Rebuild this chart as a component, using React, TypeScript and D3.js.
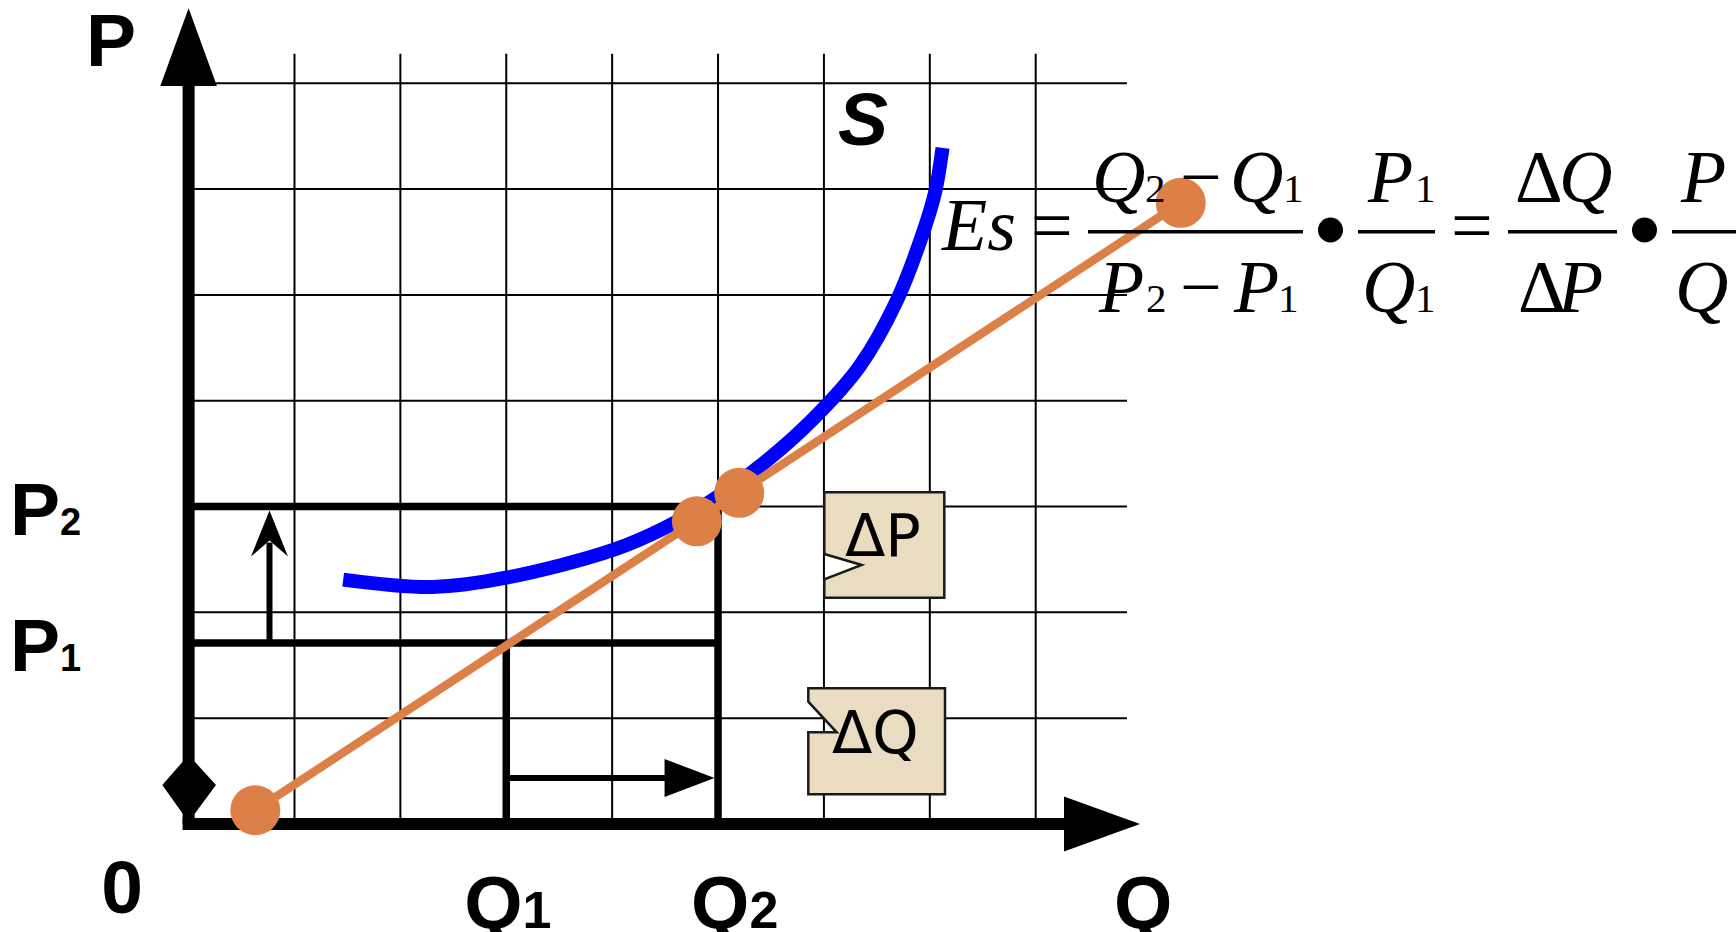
import * as d3 from "d3"
import React, { useEffect, useRef } from "react"

const W = 1736
const H = 932

// supply curve S (Q units, P units)
const supplyQ = [1.46, 2.31, 3.01, 4.01, 4.48, 4.9, 5.43, 5.9, 6.34, 6.69, 6.93, 7.05, 7.12]
const supplyP = [2.31, 2.24, 2.33, 2.59, 2.79, 3.03, 3.41, 3.83, 4.33, 4.95, 5.57, 5.97, 6.39]

// orange chord and its four dots
const chordQ = [0.63, 4.8, 5.2, 9.37]
const chordP = [0.13, 2.86, 3.13, 5.87]

const gridQ = [1, 2, 3, 4, 5, 6, 7, 8]
const gridP = [1, 2, 3, 4, 5, 6, 7]

// Q1, Q2 and P1, P2 levels
const levelQ = [3, 5]
const levelP = [1.71, 3]
const qTicks = ["Q1", "Q2"]
const pTicks = ["P1", "P2"]

const LABEL_FONT = "'Liberation Sans', Arial, sans-serif"
const BOX_FONT = "'DejaVu Sans', Verdana, sans-serif"
const MATH_FONT = "'Liberation Serif', 'Times New Roman', serif"
const ORANGE = "#dd8047"

export default function App() {
  const ref = useRef<SVGSVGElement>(null)

  useEffect(() => {
    document.body.style.margin = "0"
    const svg = d3.select(ref.current)
    svg.selectAll("*").remove()

    const x = d3.scaleLinear().domain([0, 8]).range([188.6, 1035.7])
    const y = d3.scaleLinear().domain([0, 7]).range([824, 83.3])

    // grid
    const grid = svg.append("g").attr("stroke", "#000").attr("stroke-width", 2)
    grid.selectAll("line.v")
      .data(gridQ)
      .join("line")
      .attr("class", "v")
      .attr("x1", d => x(d)).attr("x2", d => x(d))
      .attr("y1", y(0)).attr("y2", y(7.28))
    grid.selectAll("line.h")
      .data(gridP)
      .join("line")
      .attr("class", "h")
      .attr("x1", x(0)).attr("x2", x(8.862))
      .attr("y1", d => y(d)).attr("y2", d => y(d))

    // P1/P2 and Q1/Q2 guide lines
    const guides = svg.append("g").attr("stroke", "#000").attr("stroke-width", 7.5)
    levelP.forEach(p => {
      guides.append("line")
        .attr("x1", x(0)).attr("x2", x(levelQ[1]) + 3)
        .attr("y1", y(p)).attr("y2", y(p))
    })
    levelQ.forEach((q, i) => {
      guides.append("line")
        .attr("x1", x(q)).attr("x2", x(q))
        .attr("y1", y(0)).attr("y2", y(levelP[i]) - 3)
    })

    // arrow P1 -> P2
    const ax = x(0.764)
    const tipY = y(levelP[1]) + 4
    svg.append("line")
      .attr("x1", ax).attr("x2", ax)
      .attr("y1", y(levelP[0])).attr("y2", tipY + 32)
      .attr("stroke", "#000").attr("stroke-width", 6)
    svg.append("path")
      .attr("d", `M${ax},${tipY} L${ax + 18.5},${tipY + 46} L${ax},${tipY + 30} L${ax - 18.5},${tipY + 46} Z`)
      .attr("fill", "#000")

    // arrow Q1 -> Q2
    const ay = y(0.435)
    const tipX = x(levelQ[1]) - 3.5
    svg.append("line")
      .attr("x1", x(levelQ[0])).attr("x2", tipX - 45)
      .attr("y1", ay).attr("y2", ay)
      .attr("stroke", "#000").attr("stroke-width", 6)
    svg.append("path")
      .attr("d", `M${tipX},${ay} L${tipX - 50},${ay - 19} L${tipX - 50},${ay + 19} Z`)
      .attr("fill", "#000")

    // axes
    svg.append("line")
      .attr("x1", x(0)).attr("x2", x(0))
      .attr("y1", y(0)).attr("y2", 84)
      .attr("stroke", "#000").attr("stroke-width", 12)
    svg.append("path")
      .attr("d", `M${x(0)},8.3 L${x(0) + 28.3},86 L${x(0) - 28.3},86 Z`)
      .attr("fill", "#000")
    svg.append("line")
      .attr("x1", x(0) - 6).attr("x2", 1066)
      .attr("y1", y(0)).attr("y2", y(0))
      .attr("stroke", "#000").attr("stroke-width", 12)
    svg.append("path")
      .attr("d", `M1064,${y(0) - 27.5} L1140,${y(0)} L1064,${y(0) + 27.5} Z`)
      .attr("fill", "#000")
    svg.append("path")
      .attr("d", `M162.3,785 L${x(0)},755 L216,785 L${x(0)},822 Z`)
      .attr("fill", "#000")

    // callout boxes
    const boxes = svg.append("g").attr("fill", "#eadcc1").attr("stroke", "#1a1a1a").attr("stroke-width", 2.5)
    boxes.append("path")
      .attr("d", "M824.3,492.3 H944.3 V597.7 H824.3 V579.3 L861.7,565 L824.3,554 Z")
    boxes.append("path")
      .attr("d", "M808.3,688.3 H945 V794.3 H808.3 V732.3 H836.7 L808.3,701.7 Z")
    svg.append("text")
      .attr("x", 845).attr("y", 556)
      .attr("font-family", BOX_FONT).attr("font-size", 59)
      .text("ΔP")
    svg.append("text")
      .attr("x", 832).attr("y", 753)
      .attr("font-family", BOX_FONT).attr("font-size", 59)
      .text("ΔQ")

    // supply curve
    const supply = d3.line<number>()
      .x((d, i) => x(supplyQ[i]))
      .y(d => y(d))
      .curve(d3.curveCatmullRom.alpha(0.5))
    svg.append("path")
      .datum(supplyP)
      .attr("fill", "none")
      .attr("stroke", "#0000ff")
      .attr("stroke-width", 14)
      .attr("d", supply)

    // chord through the first and last dot
    const chord = d3.line<number>()
      .x((d, i) => x(chordQ[i * 3]))
      .y(d => y(d))
    svg.append("path")
      .datum([chordP[0], chordP[3]])
      .attr("fill", "none")
      .attr("stroke", ORANGE)
      .attr("stroke-width", 8.5)
      .attr("d", chord)
    svg.selectAll("circle.dot")
      .data(chordP)
      .join("circle")
      .attr("class", "dot")
      .attr("cx", (d, i) => x(chordQ[i]))
      .attr("cy", d => y(d))
      .attr("r", 25)
      .attr("fill", ORANGE)

    // axis labels
    const label = (tx: number, ty: number, main: string, sub: string, subSize: number, italic = false) => {
      const t = svg.append("text")
        .attr("x", tx).attr("y", ty)
        .attr("font-family", LABEL_FONT).attr("font-weight", "bold")
        .attr("font-size", 75)
        .attr("font-style", italic ? "italic" : "normal")
      t.append("tspan").text(main)
      if (sub) t.append("tspan").attr("font-size", subSize).text(sub)
    }
    label(86, 66, "P", "", 0)
    pTicks.forEach((s, i) => label(10, y(levelP[i]) + 28, s[0], s.slice(1), 38))
    svg.append("text")
      .attr("x", 122).attr("y", 913)
      .attr("text-anchor", "middle")
      .attr("font-family", LABEL_FONT).attr("font-weight", "bold").attr("font-size", 75)
      .text("0")
    qTicks.forEach((s, i) => label(x(levelQ[i]) - 42 + i * 15, 928, s[0], s.slice(1), 52))
    label(1114, 928, "Q", "", 0)
    label(838, 145, "S", "", 0, true)

    // elasticity formula
    const f = svg.append("g").attr("font-family", MATH_FONT).attr("fill", "#000")
    const it = (tx: number, ty: number, s: string, size = 74) =>
      f.append("text").attr("x", tx).attr("y", ty).attr("font-size", size).attr("font-style", "italic").text(s)
    const up = (tx: number, ty: number, s: string, size = 74) =>
      f.append("text").attr("x", tx).attr("y", ty).attr("font-size", size).text(s)
    const bar = (x1: number, x2: number) =>
      f.append("line").attr("x1", x1).attr("x2", x2).attr("y1", 231.7).attr("y2", 231.7)
        .attr("stroke", "#000").attr("stroke-width", 3.5)
    const num = 202
    const den = 311.7
    const sub = 41

    it(942, 250, "Es")
    up(1031, 250, "=")
    bar(1088, 1303)
    it(1092, num, "Q"); up(1145, num, "2", sub); up(1180, num, "−"); it(1230, num, "Q"); up(1283, num, "1", sub)
    it(1099, den, "P"); up(1146, den, "2", sub); up(1180, den, "−"); it(1234, den, "P"); up(1278, den, "1", sub)
    f.append("circle").attr("cx", 1330.5).attr("cy", 230).attr("r", 12.5)
    bar(1358, 1435)
    it(1368, num, "P"); up(1415, num, "1", sub)
    it(1362, den, "Q"); up(1415, den, "1", sub)
    up(1451, 250, "=")
    bar(1508, 1617)
    up(1515, num, "Δ"); it(1559, num, "Q")
    up(1518, den, "Δ"); it(1558, den, "P")
    f.append("circle").attr("cx", 1644.5).attr("cy", 230).attr("r", 12.5)
    bar(1672, 1736)
    it(1681, num, "P")
    it(1675, den, "Q")
  }, [])

  return (
    <svg ref={ref} width={W} height={H}
      style={{ position: "absolute", left: 0, top: 0, background: "#fff", display: "block" }} />
  )
}
